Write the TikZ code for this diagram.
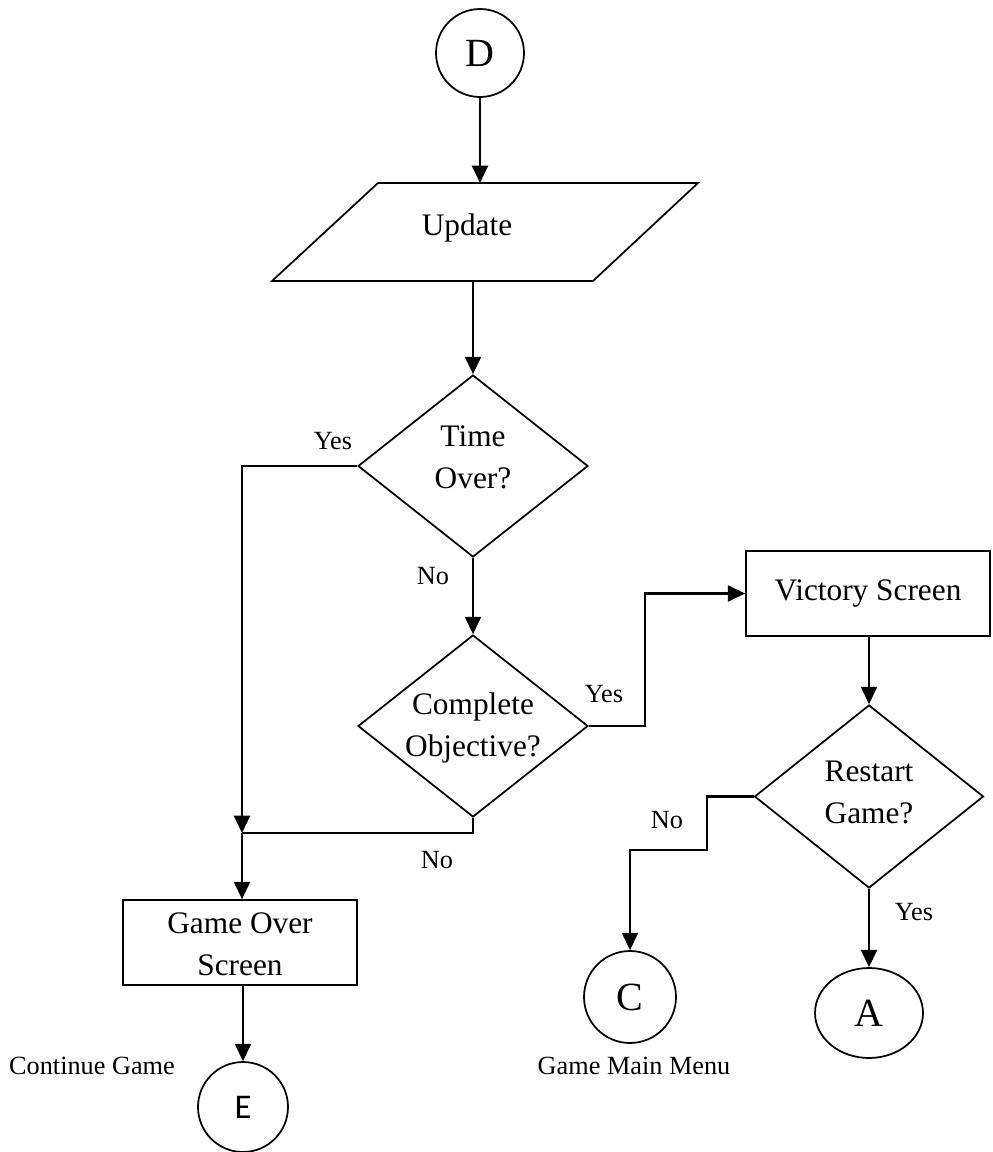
\documentclass[tikz,border=0pt]{standalone}
\usepackage{fontspec}
\setmainfont{Liberation Serif}
\newfontfamily\efont{Carlito}
\usetikzlibrary{shapes.geometric,arrows.meta}
\begin{document}
\begin{tikzpicture}[x=0.75pt,y=-0.75pt,
  box/.style={draw, rectangle, line width=1.3pt, inner sep=0pt, align=center, font=\fontsize{23.5}{31.5}\selectfont},
  dia/.style={draw, diamond, line width=1.3pt, minimum width=172.5pt, minimum height=136.5pt, inner sep=0pt, aspect=1.26, align=center, font=\fontsize{23.5}{31.5}\selectfont},
  conn/.style={draw, circle, line width=1.3pt, inner sep=0pt, font=\fontsize{30}{30}\selectfont},
  flow/.style={line width=1.7pt, -{Triangle[length=13pt,width=12pt]}},
  wire/.style={line width=1.7pt},
  lab/.style={inner sep=0pt, font=\fontsize{19.7}{22}\selectfont}]
\useasboundingbox (0,0) rectangle (992,1152);
% nodes
\node[conn, minimum size=66pt] (D) at (480,53) {D};
\draw[line width=1.3pt] (378,183) -- (698,183) -- (593,281) -- (272,281) -- cycle;
\node[inner sep=0pt, font=\fontsize{23.5}{31.5}\selectfont] (upd) at (467,228) {Update};
\coordinate (updN) at (480,183);
\coordinate (updS) at (473,281);
\node[dia, text depth=13pt] (tover) at (473,466) {Time\\Over?};
\node[dia, text depth=1.5pt] (comp) at (473,726) {Complete\\Objective?};
\coordinate (j) at (242,833);
\node[box, minimum width=175.5pt, minimum height=63.75pt, text height=55pt, text depth=5pt] (gover) at (240,942.5) {Game Over\\Screen};
\node[conn, minimum size=67.5pt, font=\efont\fontsize{26}{26}\selectfont] (E) at (243,1107) {E};
\node[box, minimum width=183pt, minimum height=63.75pt] (vic) at (868,593.5) {Victory Screen};
\node[dia, minimum width=171.75pt, minimum height=137.25pt, text depth=7pt] (rest) at (869,796.5) {Restart\\Game?};
\node[conn, minimum size=69pt] (C) at (630,997) {C};
\node[draw, ellipse, line width=1.3pt, inner sep=0pt, minimum width=81pt, minimum height=67.5pt, font=\fontsize{30}{30}\selectfont] (A) at (869,1013) {A};
% labels
\node[lab] at (333,441) {Yes};
\node[lab] at (433,576) {No};
\node[lab] at (604,694) {Yes};
\node[lab] at (437,860) {No};
\node[lab] at (667,820) {No};
\node[lab] at (914,912) {Yes};
\node[lab] at (92,1066) {Continue Game};
\node[lab] at (634,1066) {Game Main Menu};
% connectors
\draw[flow] (D.south) -- (updN);
\draw[flow] (updS) -- (tover.north);
\draw[flow] (tover.west) -| (j);
\draw[flow] (j) -- (j |- gover.north);
\draw[flow] (tover.south) -- (comp.north);
\draw[wire] (comp.south) |- (j);
\draw[flow] (comp.east) -- (645,726) |- (vic.west);
\draw[flow] (vic.south -| rest.north) -- (rest.north);
\draw[flow] (rest.west) -- (707,796.5) -- (707,850) -| (C.north);
\draw[flow] (rest.south) -- (A.north);
\draw[flow] (gover.south -| E.north) -- (E.north);
\end{tikzpicture}
\end{document}
